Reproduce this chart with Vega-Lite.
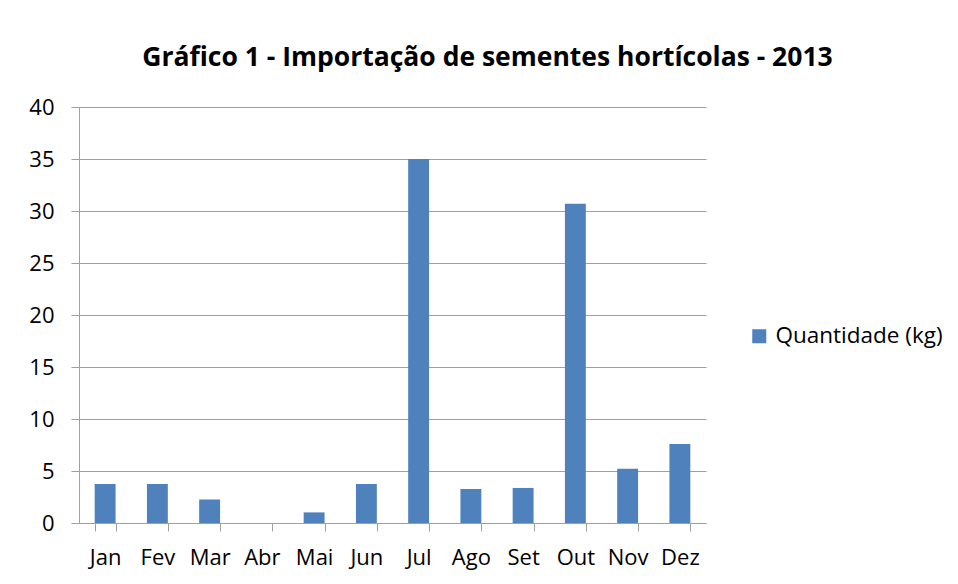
{
  "$schema": "https://vega.github.io/schema/vega-lite/v6.json",
  "width": 627,
  "height": 416,
  "autosize": {"type": "none"},
  "padding": {"left": 79, "top": 107, "right": 252, "bottom": 61},
  "background": "white",
  "title": {
    "text": "Gráfico 1 - Importação de sementes hortícolas - 2013",
    "font": "Open Sans",
    "fontSize": 26.5,
    "fontWeight": "bold",
    "color": "#000000",
    "anchor": "middle",
    "frame": "group",
    "dx": 95,
    "baseline": "alphabetic",
    "offset": 4
  },
  "data": {
    "values": [
      {"mes": "Jan", "quantidade": 3.75, "serie": "Quantidade (kg)"},
      {"mes": "Fev", "quantidade": 3.75, "serie": "Quantidade (kg)"},
      {"mes": "Mar", "quantidade": 2.27, "serie": "Quantidade (kg)"},
      {"mes": "Abr", "quantidade": 0, "serie": "Quantidade (kg)"},
      {"mes": "Mai", "quantidade": 1.02, "serie": "Quantidade (kg)"},
      {"mes": "Jun", "quantidade": 3.75, "serie": "Quantidade (kg)"},
      {"mes": "Jul", "quantidade": 35, "serie": "Quantidade (kg)"},
      {"mes": "Ago", "quantidade": 3.27, "serie": "Quantidade (kg)"},
      {"mes": "Set", "quantidade": 3.37, "serie": "Quantidade (kg)"},
      {"mes": "Out", "quantidade": 30.7, "serie": "Quantidade (kg)"},
      {"mes": "Nov", "quantidade": 5.22, "serie": "Quantidade (kg)"},
      {"mes": "Dez", "quantidade": 7.6, "serie": "Quantidade (kg)"}
    ]
  },
  "mark": {"type": "bar"},
  "encoding": {
    "x": {
      "field": "mes",
      "type": "nominal",
      "sort": null,
      "scale": {"paddingInner": 0.6, "paddingOuter": 0.3},
      "axis": {
        "title": null,
        "labelAngle": 0,
        "tickBand": "extent",
        "domainColor": "#A0A0A0",
        "tickColor": "#A0A0A0",
        "tickSize": 8,
        "labelFont": "Open Sans",
        "labelFontSize": 22,
        "labelColor": "#000000",
        "labelPadding": 16,
        "grid": false
      }
    },
    "y": {
      "field": "quantidade",
      "type": "quantitative",
      "scale": {"domain": [0, 40], "nice": false},
      "axis": {
        "title": null,
        "values": [0, 5, 10, 15, 20, 25, 30, 35, 40],
        "grid": true,
        "gridColor": "#A0A0A0",
        "domainColor": "#A0A0A0",
        "tickColor": "#A0A0A0",
        "tickSize": 8,
        "labelFont": "Open Sans",
        "labelFontSize": 22,
        "labelColor": "#000000",
        "labelPadding": 17
      }
    },
    "color": {
      "field": "serie",
      "type": "nominal",
      "scale": {"range": ["#4F81BD"]},
      "legend": {
        "title": null,
        "orient": "none",
        "legendX": 669,
        "legendY": 218,
        "padding": 0,
        "symbolType": "square",
        "symbolSize": 196,
        "symbolStrokeWidth": 0,
        "labelFont": "Open Sans",
        "labelFontSize": 22.5,
        "labelLimit": 400,
        "labelColor": "#000000",
        "labelOffset": 5
      }
    }
  },
  "config": {
    "view": {"stroke": null},
    "axis": {"gridOpacity": 1, "domainOpacity": 1}
  }
}
